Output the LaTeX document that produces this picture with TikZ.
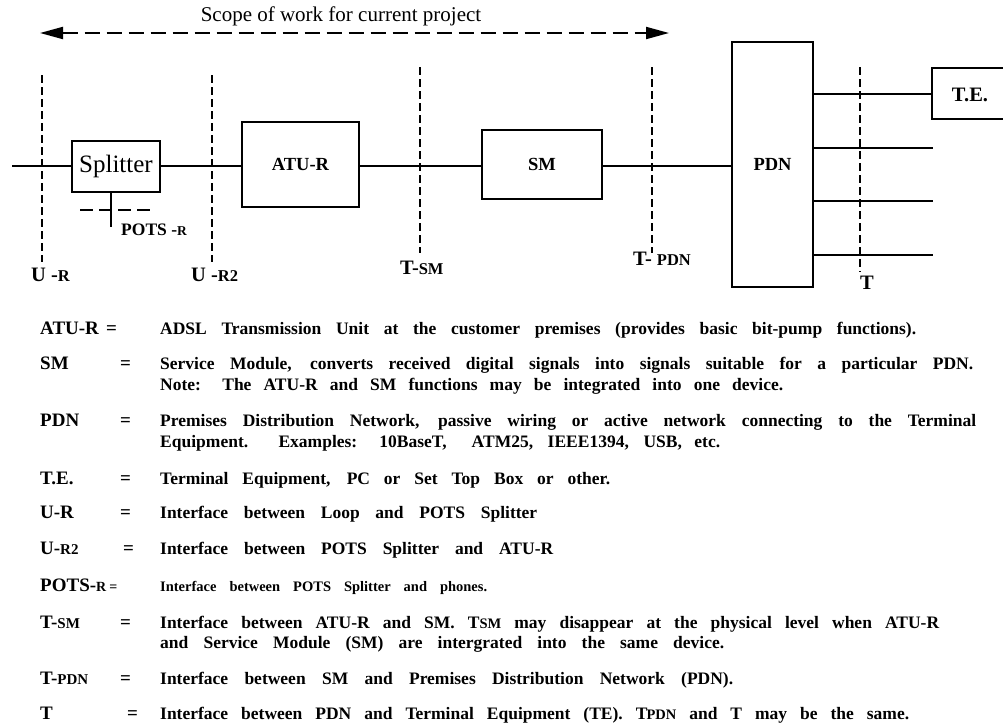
\documentclass[tikz,border=0pt]{standalone}
\usepackage{fontspec}
\setmainfont{Liberation Serif}
\usetikzlibrary{arrows.meta}
\newcommand\smc[2][13]{{\fontsize{#1}{#1}\selectfont #2}}
\newcommand\legline[2]{\makebox[#1][s]{#2}}
\begin{document}
\begin{tikzpicture}[x=1pt,y=-1pt,
  box/.style={draw, line width=2pt, inner sep=0pt},
  wire/.style={line width=2pt},
  vdash/.style={line width=2pt, dash pattern=on 8pt off 4pt},
  lbl/.style={font=\bfseries\fontsize{18.5}{20}\selectfont, inner sep=0pt},
  dlbl/.style={font=\bfseries\fontsize{20.5}{20}\selectfont, inner sep=0pt, anchor=base west},
  leg/.style={font=\bfseries\fontsize{17.5}{20}\selectfont, anchor=base west, inner sep=0pt},
  legs/.style={font=\bfseries\fontsize{14.5}{16}\selectfont, anchor=base west, inner sep=0pt},
  legk/.style={font=\bfseries\fontsize{19}{20}\selectfont, anchor=base west, inner sep=0pt},
]
\clip (0,0) rectangle (1003,723);
\useasboundingbox (0,0) rectangle (1003,723);

% title and scope arrow
\node[font=\fontsize{21}{22}\selectfont, inner sep=0pt] (title) at (341,16) {Scope of work for current project};
\coordinate (sl) at (40,33);
\coordinate (sr) at (669,33);
\draw[line width=2pt, dash pattern=on 15pt off 7pt, {Triangle[length=23pt,width=12pt]}-{Triangle[length=23pt,width=12pt]}] (sl) -- (sr);

% boxes
\node[box, minimum width=88pt, minimum height=51pt, font=\fontsize{25}{28}\selectfont] (spl) at (116,166) {Splitter};
\node[box, lbl, minimum width=117pt, minimum height=85pt] (atu) at (300.5,164.5) {ATU-R};
\node[box, lbl, minimum width=120pt, minimum height=69pt] (sm) at (542,164.5) {SM};
\node[box, lbl, minimum width=81pt, minimum height=245pt] (pdn) at (772.5,164.5) {PDN};
\node[box, minimum width=100pt, minimum height=51pt] (te) at (982,93.5) {};
\node[lbl, font=\bfseries\fontsize{20.5}{20}\selectfont] (telbl) at (970,95) {T.E.};

% main wires
\coordinate (in) at (12,166);
\draw[wire] (in) -- (spl.west |- in);
\draw[wire] (spl.east |- in) -- (atu.west |- in);
\draw[wire] (atu.east |- in) -- (sm.west |- in);
\draw[wire] (sm.east |- in) -- (pdn.west |- in);
\draw[wire] (pdn.east |- te.west) -- (te.west);
\coordinate (o2) at (933,148);
\coordinate (o3) at (933,201);
\coordinate (o4) at (933,255);
\draw[wire] (pdn.east |- o2) -- (o2);
\draw[wire] (pdn.east |- o3) -- (o3);
\draw[wire] (pdn.east |- o4) -- (o4);

% POTS stub
\coordinate (pots) at (111,227);
\draw[wire] (spl.south -| pots) -- (pots);
\coordinate (pl) at (80,210);
\coordinate (pr) at (153,210);
\draw[line width=2pt, dash pattern=on 13pt off 6pt] (pl) -- (pr);
\node[dlbl, font=\bfseries\fontsize{17.5}{17}\selectfont] (potslbl) at (121,235) {POTS -\smc[13.5]{R}};

% interface dashed lines
\coordinate (ur1) at (42,75);   \coordinate (ur2) at (42,262);
\coordinate (ura) at (212,75);  \coordinate (urb) at (212,262);
\coordinate (ts1) at (420,67);  \coordinate (ts2) at (420,253);
\coordinate (tp1) at (652,67);  \coordinate (tp2) at (652,253);
\coordinate (tt1) at (860,67);  \coordinate (tt2) at (860,272);
\draw[vdash] (ur1) -- (ur2);
\draw[vdash] (ura) -- (urb);
\draw[vdash] (ts1) -- (ts2);
\draw[vdash] (tp1) -- (tp2);
\draw[vdash] (tt1) -- (tt2);
\node[dlbl] (urlbl) at (31,281) {U -\smc[16.5]{R}};
\node[dlbl] (ur2lbl) at (191,281) {U -\smc[16.5]{R2}};
\node[dlbl] (tslbl) at (400,274) {T-\smc[16.5]{SM}};
\node[dlbl] (tplbl) at (633,265) {T- \smc[16.5]{PDN}};
\node[dlbl] (tlbl) at (860,289) {T};

% legend
\node[legk] (k1) at (40,334) {ATU-R};
\node[legk] (e1) at (106,334) {=};
\node[leg] (d1) at (160,334) {\legline{756pt}{ADSL Transmission Unit at the customer premises (provides basic bit-pump functions).}};

\node[legk] (k2) at (40,369) {SM};
\node[legk] (e2) at (120,369) {=};
\node[leg] (d2) at (160,369) {\legline{813pt}{Service Module, converts received digital signals into signals suitable for a particular PDN.}};
\node[leg] (d2b) at (160,390) {\legline{623pt}{Note: The ATU-R and SM functions may be integrated into one device.}};

\node[legk] (k3) at (40,426) {PDN};
\node[legk] (e3) at (120,426) {=};
\node[leg] (d3) at (160,426) {\legline{816pt}{Premises Distribution Network, passive wiring or active network connecting to the Terminal}};
\node[leg] (d3b) at (160,447) {\legline{560pt}{Equipment. Examples: 10BaseT,\ \ ATM25, IEEE1394, USB, etc.}};

\node[legk] (k4) at (40,484) {T.E.};
\node[legk] (e4) at (120,484) {=};
\node[leg] (d4) at (160,484) {\legline{450pt}{Terminal Equipment, PC or Set Top Box or other.}};

\node[legk] (k5) at (40,518) {U-R};
\node[legk] (e5) at (120,518) {=};
\node[leg] (d5) at (160,518) {\legline{377pt}{Interface between Loop and POTS Splitter}};

\node[legk] (k6) at (40,554) {U-\smc[15]{R2}};
\node[legk] (e6) at (123,554) {=};
\node[leg] (d6) at (160,554) {\legline{393pt}{Interface between POTS Splitter and ATU-R}};

\node[legk] (k7) at (40,591) {POTS-\smc[14]{R}\,\smc[14]{=}};
\node[legs] (d7) at (160,591) {\legline{327pt}{Interface between POTS Splitter and phones.}};

\node[legk] (k8) at (40,628) {T-\smc[15]{SM}};
\node[legk] (e8) at (120,628) {=};
\node[leg] (d8) at (160,628) {\legline{779pt}{Interface between ATU-R and SM. T\smc[14.5]{SM} may disappear at the physical level when ATU-R}};
\node[leg] (d8b) at (160,648) {\legline{564pt}{and Service Module (SM) are intergrated into the same device.}};

\node[legk] (k9) at (40,684) {T-\smc[15]{PDN}};
\node[legk] (e9) at (120,684) {=};
\node[leg] (d9) at (160,684) {\legline{573pt}{Interface between SM and Premises Distribution Network (PDN).}};

\node[legk] (k10) at (40,719) {T};
\node[legk] (e10) at (127,719) {=};
\node[leg] (d10) at (160,719) {\legline{749pt}{Interface between PDN and Terminal Equipment (TE). T\kern-1pt\smc[14.5]{PDN} and T may be the same.}};
\end{tikzpicture}
\end{document}
